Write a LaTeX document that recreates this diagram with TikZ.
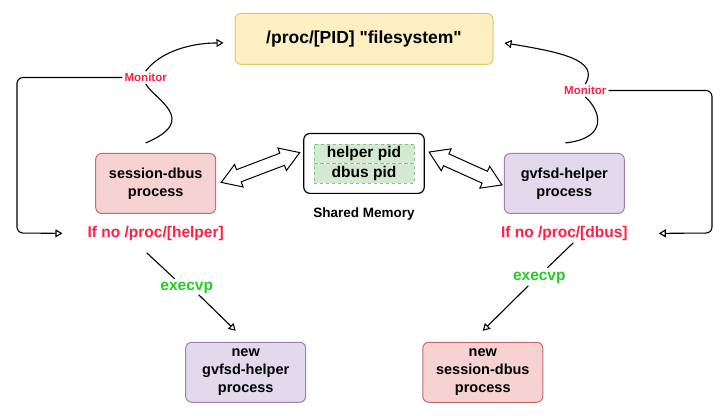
\documentclass[tikz,border=0pt]{standalone}
\usepackage{fontspec}
\setmainfont{Liberation Sans}
\usetikzlibrary{
  arrows.meta,
  positioning,
  fit,
  backgrounds,
  shapes.arrows,
}
\definecolor{procfill}{HTML}{FCEFC2}
\definecolor{procline}{HTML}{E6C65C}
\definecolor{dbusfill}{HTML}{F6D2D2}
\definecolor{dbusline}{HTML}{C96A6A}
\definecolor{helperfill}{HTML}{E3D8EC}
\definecolor{helperline}{HTML}{9B7FB3}
\definecolor{cellfill}{HTML}{D3E9D1}
\definecolor{cellline}{HTML}{86C482}
\definecolor{warnred}{HTML}{FF1F40}
\definecolor{execgreen}{HTML}{22CC22}
\newcommand{\boxfont}{\bfseries\fontsize{14.5}{18}\selectfont}
\newcommand{\bigfont}{\bfseries\fontsize{15.5}{18}\selectfont}
\tikzset{
  box/.style={
    rectangle,
    rounded corners=6pt,
    minimum width=120pt,
    minimum height=60pt,
    align=center,
    line width=1pt,
    font=\boxfont
  },
  procbox/.style={
    box,
    minimum width=258pt,
    minimum height=51pt,
    draw=procline,
    fill=procfill,
    font=\bfseries\fontsize{17.5}{20}\selectfont
  },
  dbusbox/.style={
    box,
    draw=dbusline,
    fill=dbusfill
  },
  helperbox/.style={
    box,
    draw=helperline,
    fill=helperfill
  },
  cell/.style={
    rectangle,
    dashed,
    draw=cellline,
    fill=cellfill,
    minimum width=100pt,
    minimum height=19.5pt,
    inner sep=0pt,
    font=\bigfont
  },
  memory/.style={
    rectangle,
    rounded corners=6pt,
    draw=black,
    line width=1.2pt,
    fill=white,
    inner sep=10pt
  },
  note/.style={
    inner sep=2pt,
    font=\bfseries\fontsize{13.5}{16}\selectfont
  },
  cond/.style={
    inner sep=2pt,
    text=warnred,
    font=\bigfont
  },
  call/.style={
    inner sep=2pt,
    text=execgreen,
    font=\bigfont
  },
  watch/.style={
    inner sep=2pt,
    text=warnred,
    font=\bfseries\fontsize{11.5}{14}\selectfont
  },
  link/.style={
    line width=1.1pt
  },
  arrow/.style={
    line width=1.1pt,
    -{Triangle[open, length=7pt, width=8pt]}
  },
  pipe/.style={
    double arrow,
    draw=black,
    fill=white,
    line width=1pt,
    inner xsep=0pt,
    inner ysep=6pt,
    double arrow head extend=5.5pt,
    double arrow tip angle=65
  },
}

\begin{document}
\begin{tikzpicture}[
    x=1pt, y=1pt,
    node distance=10pt,
  ]
  \useasboundingbox (0,0) rectangle (728,-415);

  % Shared memory
  \node (helperpid) [cell] at (364,-153.5) {helper pid};
  \node (dbuspid) [cell, below=0pt of helperpid] {dbus pid};
  \begin{scope}[on background layer]
    \node (shm) [memory, fit=(helperpid)(dbuspid)] {};
  \end{scope}
  \node (shmlabel) [note, below=12pt of shm] {Shared Memory};

  % Processes
  \node (proc) [procbox, above=68pt of shm] {/proc/[PID] \textquotedbl filesystem\textquotedbl};
  \node (sdbus) [dbusbox, left=87pt of shm, yshift=-20pt] {session-dbus\\process};
  \node (helper) [helperbox, right=79pt of shm, yshift=-20pt] {gvfsd-helper\\process};

  % Checks and restarts
  \node (ifhelper) [cond, below=10pt of sdbus] {If no /proc/[helper]};
  \node (ifdbus) [cond, below=10pt of helper] {If no /proc/[dbus]};
  \node (execl) [call, below=37pt of ifhelper, xshift=31pt] {execvp};
  \node (execr) [call, below=27pt of ifdbus, xshift=-25pt] {execvp};
  \node (newhelper) [helperbox, below=46pt of execl, xshift=59pt] {new\\gvfsd-helper\\process};
  \node (newdbus) [dbusbox, below=56pt of execr, xshift=-56.5pt] {new\\session-dbus\\process};

  % Monitor labels
  \node (monl) [watch, above=69pt of sdbus, xshift=-10pt] {Monitor};
  \node (monr) [watch, above=56pt of helper, xshift=21pt] {Monitor};

  % Shared memory access
  \node (pipel) [pipe, minimum height=84pt, rotate=20.8] at (260.5,-167.5) {};
  \node (piper) [pipe, minimum height=80pt, rotate=-24.3] at (465.5,-168.5) {};

  % Loops
  \coordinate (lloop) at (17,-233);
  \coordinate (rloop) at (712,-233);
  \draw [arrow, rounded corners=6pt] (monl.west) -| (lloop) -- ([xshift=-23pt]ifhelper.west);
  \draw [arrow, rounded corners=6pt] (monr.east) -| (rloop) -- ([xshift=29pt]ifdbus.east);

  % Monitor curves
  \draw [link] ([shift={(-10,10)}]sdbus.north) .. controls (200,-120) and (155,-100) .. (monl.south);
  \draw [arrow] (monl.north) .. controls (160,-52) and (190,-43) .. ([shift={(-11,-4)}]proc.west);
  \draw [link] ([shift={(1,10)}]helper.north) .. controls (610,-138) and (600,-110) .. (monr.south);
  \draw [arrow] (monr.north) .. controls (600,-60) and (560,-52) .. ([shift={(11,-4)}]proc.east);

  % Restarts
  \draw [link] ([shift={(-9,-10)}]ifhelper.south) -- ([shift={(-12,1)}]execl.north);
  \draw [arrow] ([shift={(12,1)}]execl.south) -- ([shift={(-10,11)}]newhelper.north);
  \draw [link] ([shift={(9,0)}]ifdbus.south) -- ([shift={(8,2)}]execr.north);
  \draw [arrow] ([shift={(-11,0)}]execr.south) -- ([shift={(0,11)}]newdbus.north);

\end{tikzpicture}
\end{document}
